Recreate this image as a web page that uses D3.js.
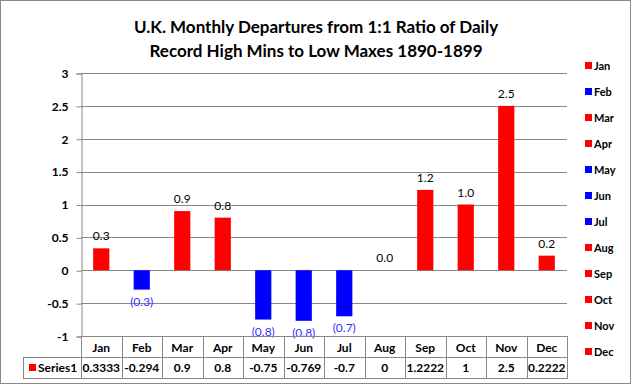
<!DOCTYPE html>
<html>
<head>
<meta charset="utf-8">
<script src="https://cdn.jsdelivr.net/npm/d3@7"></script>
<style>
  body { margin: 0; background: #fff; }
  text { font-family: Lato, "Open Sans", sans-serif; }
</style>
</head>
<body>
<script>
// chart data
var months = ["Jan", "Feb", "Mar", "Apr", "May", "Jun", "Jul", "Aug", "Sep", "Oct", "Nov", "Dec"];
var values = [0.3333, -0.294, 0.9, 0.8, -0.75, -0.769, -0.7, 0, 1.2222, 1, 2.5, 0.2222];
var tableText = ["0.3333", "-0.294", "0.9", "0.8", "-0.75", "-0.769", "-0.7", "0", "1.2222", "1", "2.5", "0.2222"];
var yTicks = [-1, -0.5, 0, 0.5, 1, 1.5, 2, 2.5, 3];
var titleLines = ["U.K. Monthly Departures from 1:1 Ratio of Daily", "Record High Mins to Low Maxes 1890-1899"];
var seriesName = "Series1";

var svgWidth = 632, svgHeight = 385;
var plot = { left: 81, right: 567, top: 73, bottom: 336 };

var svg = d3.select("body").append("svg")
  .attr("width", svgWidth)
  .attr("height", svgHeight);

// outer frame
svg.append("rect")
  .attr("x", 0.5).attr("y", 0.5)
  .attr("width", svgWidth - 2).attr("height", svgHeight - 2)
  .attr("fill", "#fff")
  .attr("stroke", "#888");

// title
svg.selectAll(".title")
  .data(titleLines)
  .enter().append("text")
  .attr("class", "title")
  .attr("x", 316)
  .attr("y", function(d, i) { return 33 + i * 24; })
  .attr("text-anchor", "middle")
  .attr("font-size", 17)
  .attr("font-weight", "bold")
  .text(function(d) { return d; });

var x = d3.scaleBand()
  .domain(months)
  .range([plot.left, plot.right])
  .paddingInner(0.6)
  .paddingOuter(0.3);

var band = d3.scaleBand()
  .domain(months)
  .range([plot.left, plot.right]);

var y = d3.scaleLinear()
  .domain([-1, 3])
  .range([plot.bottom, plot.top]);

function color(v) { return v < 0 ? "#0000ff" : "#ff0000"; }

// gridlines
svg.append("g")
  .selectAll("line")
  .data(yTicks)
  .enter().append("line")
  .attr("x1", plot.left).attr("x2", plot.right)
  .attr("y1", function(d) { return Math.round(y(d)) + 0.5; })
  .attr("y2", function(d) { return Math.round(y(d)) + 0.5; })
  .attr("stroke", "#888")
  .attr("stroke-width", 1);

// y axis
var yAxis = svg.append("g")
  .attr("transform", "translate(" + (plot.left + 0.5) + ",0.5)")
  .call(d3.axisLeft(y).tickValues(yTicks).tickSize(5).tickPadding(8)
    .tickFormat(function(d) { return d; }));
yAxis.selectAll("path, line").attr("stroke", "#888");
yAxis.selectAll("text")
  .attr("font-family", "Lato, sans-serif")
  .attr("font-size", 12)
  .attr("font-weight", "bold")
  .attr("fill", "#000");

// bars
svg.append("g")
  .selectAll("rect")
  .data(values)
  .enter().append("rect")
  .attr("x", function(d, i) { return x(months[i]); })
  .attr("width", x.bandwidth())
  .attr("y", function(d) { return y(Math.max(0, d)); })
  .attr("height", function(d) { return Math.abs(y(d) - y(0)); })
  .attr("fill", color);

// data labels
svg.append("g")
  .selectAll("text")
  .data(values)
  .enter().append("text")
  .attr("x", function(d, i) { return band(months[i]) + band.bandwidth() / 2; })
  .attr("y", function(d) { return d < 0 ? y(d) + 16 : y(d) - 8; })
  .attr("text-anchor", "middle")
  .attr("font-size", 12)
  .attr("fill", function(d) { return d < 0 ? "#3333ff" : "#000"; })
  .text(function(d) { return d < 0 ? "(" + Math.abs(d).toFixed(1) + ")" : d.toFixed(1); });

// data table
var rowH = 21;
var table = svg.append("g");
var tableLeft = 23;

table.append("rect")
  .attr("x", plot.left + 0.5).attr("y", plot.bottom + 0.5)
  .attr("width", plot.right - plot.left).attr("height", rowH)
  .attr("fill", "none").attr("stroke", "#888");
table.append("rect")
  .attr("x", tableLeft + 0.5).attr("y", plot.bottom + rowH + 0.5)
  .attr("width", plot.right - tableLeft).attr("height", rowH)
  .attr("fill", "none").attr("stroke", "#888");
table.selectAll(".vline")
  .data(months)
  .enter().append("line")
  .attr("x1", function(d) { return Math.round(band(d)) + 0.5; })
  .attr("x2", function(d) { return Math.round(band(d)) + 0.5; })
  .attr("y1", plot.bottom).attr("y2", plot.bottom + rowH * 2)
  .attr("stroke", "#888");

table.selectAll(".cat")
  .data(months)
  .enter().append("text")
  .attr("x", function(d) { return band(d) + band.bandwidth() / 2; })
  .attr("y", plot.bottom + 16)
  .attr("text-anchor", "middle")
  .attr("font-size", 12)
  .attr("font-weight", "bold")
  .text(function(d) { return d; });

table.selectAll(".val")
  .data(tableText)
  .enter().append("text")
  .attr("x", function(d, i) { return band(months[i]) + band.bandwidth() / 2; })
  .attr("y", plot.bottom + rowH + 15)
  .attr("text-anchor", "middle")
  .attr("font-size", 12)
  .attr("font-weight", "bold")
  .text(function(d) { return d; });

table.append("rect")
  .attr("x", 29).attr("y", plot.bottom + rowH + 7)
  .attr("width", 7).attr("height", 7)
  .attr("fill", "#ff0000");
table.append("text")
  .attr("x", 38)
  .attr("y", plot.bottom + rowH + 15)
  .attr("font-size", 12)
  .attr("font-weight", "bold")
  .text(seriesName);

// legend
var legend = svg.append("g")
  .selectAll("g")
  .data(months)
  .enter().append("g")
  .attr("transform", function(d, i) { return "translate(585," + (66 + i * 26) + ")"; });
legend.append("rect")
  .attr("x", 0).attr("y", -4)
  .attr("width", 7).attr("height", 7)
  .attr("fill", function(d, i) { return color(values[i]); });
legend.append("text")
  .attr("x", 9).attr("y", 4)
  .attr("font-size", 11)
  .attr("font-weight", "bold")
  .text(function(d) { return d; });
</script>
</body>
</html>
